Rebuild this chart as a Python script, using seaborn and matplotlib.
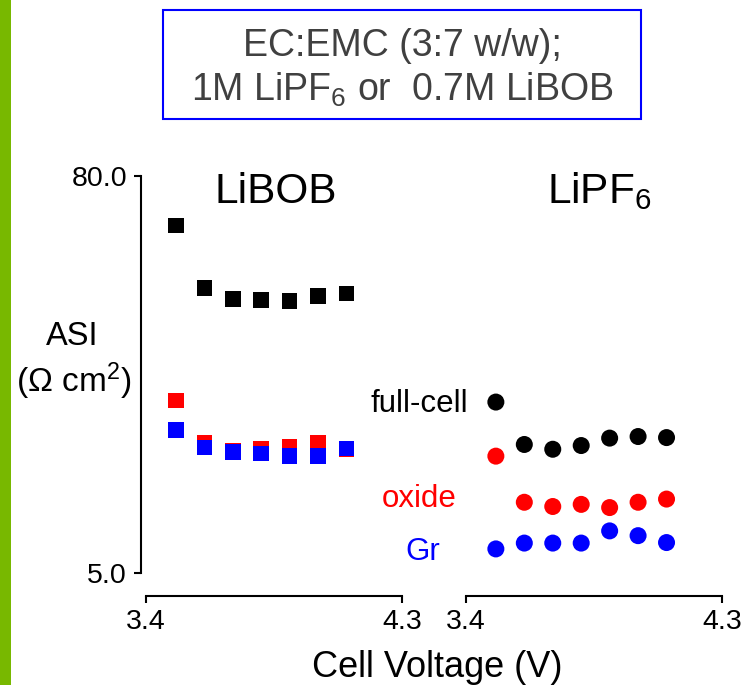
import matplotlib
matplotlib.use("Agg")
import matplotlib.pyplot as plt
from matplotlib.patches import Rectangle
import seaborn as sns
import pandas as pd

# ---------------- data ----------------
voltage = [3.505, 3.605, 3.705, 3.805, 3.905, 4.005, 4.105]
components = ["full-cell", "oxide", "Gr"]

libob_full = [70.6, 58.8, 56.7, 56.6, 56.4, 57.3, 57.8]
libob_oxide = [37.6, 29.6, 28.1, 28.4, 28.9, 29.7, 28.4]
libob_gr = [32.0, 28.7, 27.9, 27.6, 27.1, 27.1, 28.5]

lipf6_full = [37.3, 29.3, 28.4, 29.1, 30.5, 30.8, 30.6]
lipf6_oxide = [27.1, 18.4, 17.6, 18.0, 17.4, 18.4, 19.0]
lipf6_gr = [9.6, 10.7, 10.7, 10.7, 13.0, 12.1, 10.8]

x_ticks = [3.4, 4.3]
x_ticklabels = ["3.4", "4.3"]
y_ticks = [5.0, 80.0]
y_ticklabels = ["5.0", "80.0"]

colors = {"full-cell": "#000000", "oxide": "#FF0000", "Gr": "#0000FF"}


def long_df(full, oxide, gr):
    rows = []
    for comp, vals in zip(components, [full, oxide, gr]):
        for v, a in zip(voltage, vals):
            rows.append({"V": v, "ASI": a, "component": comp})
    return pd.DataFrame(rows)


df_libob = long_df(libob_full, libob_oxide, libob_gr)
df_lipf6 = long_df(lipf6_full, lipf6_oxide, lipf6_gr)

# ---------------- style ----------------
sns.set_theme(style="white")
plt.rcParams["font.family"] = ["Liberation Sans", "DejaVu Sans"]
plt.rcParams["mathtext.fontset"] = "custom"
plt.rcParams["mathtext.rm"] = "Liberation Sans"
plt.rcParams["mathtext.it"] = "Liberation Sans:italic"
plt.rcParams["mathtext.bf"] = "Liberation Sans:bold"

W, H = 745, 685
fig = plt.figure(figsize=(W / 100, H / 100), dpi=100)
fig.patch.set_facecolor("white")


def fx(px):
    return px / W


def fy(py):
    return 1 - py / H


y_top, y_bot = 175.7, 573.3
ax1 = fig.add_axes([fx(146), fy(y_bot), 256 / W, (y_bot - y_top) / H])
ax2 = fig.add_axes([fx(466), fy(y_bot), 256 / W, (y_bot - y_top) / H])

for ax, df, mk, size in [(ax1, df_libob, "s", 125), (ax2, df_lipf6, "o", 150)]:
    sns.scatterplot(data=df, x="V", y="ASI", hue="component", palette=colors,
                    hue_order=components, marker=mk, s=size, linewidth=0,
                    legend=False, ax=ax, clip_on=False, zorder=3)
    ax.set_xlim(3.4, 4.3)
    ax.set_ylim(5.0, 80.0)
    ax.set_facecolor("none")
    ax.set_xlabel("")
    ax.set_ylabel("")
    ax.set_xticks(x_ticks)
    ax.set_xticklabels(x_ticklabels)
    for s in ["top", "right"]:
        ax.spines[s].set_visible(False)
    ax.spines["bottom"].set_position(("outward", 16))
    ax.spines["bottom"].set_linewidth(1.5)
    ax.spines["bottom"].set_color("black")
    ax.tick_params(axis="x", direction="out", length=5, width=1.5,
                   labelsize=20.5, pad=5, colors="black", bottom=True)
    ax.grid(False)

ax1.spines["left"].set_position(("outward", 3.6))
ax1.spines["left"].set_linewidth(1.5)
ax1.spines["left"].set_color("black")
ax1.set_yticks(y_ticks)
ax1.set_yticklabels(y_ticklabels)
ax1.tick_params(axis="y", direction="out", length=5, width=1.5,
                labelsize=20.5, pad=5, colors="black", left=True)

ax2.spines["left"].set_visible(False)
ax2.set_yticks([])

# ---------------- texts ----------------
fig.text(fx(276), fy(203), "LiBOB", fontsize=30.5, ha="center", va="baseline", color="black")
fig.text(fx(547), fy(203), r"LiPF$_\mathregular{6}$", fontsize=30.5, ha="left", va="baseline", color="black")

fig.text(fx(72), fy(345), "ASI", fontsize=23.5, ha="center", va="baseline", color="black")
fig.text(fx(74), fy(392), r"(Ω cm$^\mathregular{2}$)", fontsize=24, ha="center", va="baseline", color="black")

fig.text(fx(468), fy(412), "full-cell", fontsize=22.5, ha="right", va="baseline", color="black")
fig.text(fx(457), fy(507), "oxide", fontsize=22.5, ha="right", va="baseline", color="#FF0000")
fig.text(fx(440), fy(560), "Gr", fontsize=22.5, ha="right", va="baseline", color="#0000FF")

fig.text(fx(437), fy(677), "Cell Voltage (V)", fontsize=26, ha="center", va="baseline", color="black")

# title box
fig.add_artist(Rectangle((fx(163), fy(119)), (641 - 163) / W, (119 - 10) / H,
                         transform=fig.transFigure, fill=False,
                         edgecolor="#0000FF", linewidth=1.5))
fig.text(fx(402), fy(56), "EC:EMC (3:7 w/w);", fontsize=27, ha="center", va="baseline", color="#404040")
fig.text(fx(402), fy(101), r"1M LiPF$_\mathregular{6}$ or  0.7M LiBOB", fontsize=27,
         ha="center", va="baseline", color="#404040")

# green side bar
fig.add_artist(Rectangle((0, 0), 11 / W, 1, transform=fig.transFigure,
                         facecolor="#78B800", edgecolor="none"))

fig.savefig("out.png", dpi=100, facecolor="white")
